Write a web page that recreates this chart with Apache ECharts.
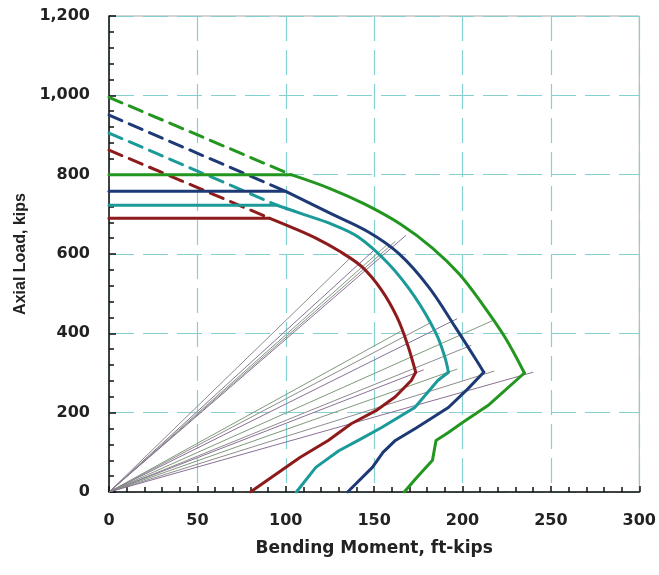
<!DOCTYPE html>
<html>
<head>
<meta charset="utf-8">
<script src="https://cdn.jsdelivr.net/npm/echarts@6/dist/echarts.min.js"></script>
<style>
  html, body { margin: 0; padding: 0; background: #fff; }
  #chart { width: 659px; height: 575px; }
</style>
</head>
<body>
<div id="chart"></div>
<script>
// interaction curves, [moment ft-kips, axial load kips]
// each curve: flat cap, upper arc (corner -> balance point), lower leg (balance point -> pure bending)
var redCap = [[0, 690], [91, 690]];
var redArc = [[91, 690], [104, 666], [117, 640], [130, 608], [143, 568], [154, 510], [163, 440], [169, 370], [173.5, 302]];
var redLeg = [[173.5, 302], [171, 281], [162, 240], [151, 205], [137, 172], [124, 130], [108, 87], [92, 37], [80, 0]];

var tealCap = [[0, 723], [95, 723]];
var tealArc = [[95, 723], [110, 700], [125, 677], [141, 643], [158, 576], [173, 492], [185, 400], [190, 340], [192, 302]];
var tealLeg = [[192, 302], [186, 281], [173, 213], [154, 162], [141, 130], [130, 104], [117, 62], [106, 0]];

var navyCap = [[0, 758], [100, 758]];
var navyArc = [[100, 758], [125, 703], [147, 655], [164, 601], [181, 516], [196, 415], [209, 324], [212, 302]];
var navyLeg = [[212, 302], [203, 260], [192, 213], [174, 162], [162, 130], [155, 100], [149, 62], [135, 0]];

var greenCap = [[0, 800], [103, 800]];
var greenArc = [[103, 800], [125, 765], [145, 725], [165, 675], [183, 615], [198, 550], [211, 475], [224, 390], [235, 300]];
var greenLeg = [[235, 300], [215, 220], [200, 175], [192, 150], [185, 130], [183, 80], [174, 36], [167, 0]];

var redDashed = [[0, 862], [91, 690]];
var tealDashed = [[0, 905], [95, 723]];
var navyDashed = [[0, 950], [100, 758]];
var greenDashed = [[0, 995], [103, 800]];

// thin lines from the origin
var radialEnds = [[136, 588], [150, 610], [157, 622], [162, 632], [168, 647],
  [165, 405], [182, 427], [197, 437], [217, 432], [205, 370],
  [178, 308], [197, 310], [218, 305], [240, 302]];
var radialColors = ["#8c8c8c", "#8a7096", "#7f9a7a"];

var curveColors = { red: "#8e1b1b", teal: "#1c9a9a", navy: "#1d3a76", green: "#23961f" };

var chart = echarts.init(document.getElementById("chart"), null, { renderer: "canvas" });

var series = [];
radialEnds.forEach(function (p, i) {
  series.push({
    type: "line",
    data: [[0, 0], p],
    symbol: "none",
    silent: true,
    lineStyle: { color: radialColors[i % 3], width: 1 },
    z: 2
  });
});

function curve(data, color, dashed, smooth) {
  return {
    type: "line",
    data: data,
    symbol: "none",
    silent: true,
    smooth: smooth || false,
    lineStyle: { color: color, width: 3, type: dashed ? [14, 8] : "solid", cap: "round", join: "round" },
    z: 3
  };
}
series.push(curve(redDashed, curveColors.red, true));
series.push(curve(tealDashed, curveColors.teal, true));
series.push(curve(navyDashed, curveColors.navy, true));
series.push(curve(greenDashed, curveColors.green, true));

[[redCap, redArc, redLeg, curveColors.red],
 [tealCap, tealArc, tealLeg, curveColors.teal],
 [navyCap, navyArc, navyLeg, curveColors.navy],
 [greenCap, greenArc, greenLeg, curveColors.green]].forEach(function (c) {
  series.push(curve(c[0], c[3], false));
  series.push(curve(c[1], c[3], false, 0.35));
  series.push(curve(c[2], c[3], false));
});

var wideFont = { color: "#222", fontSize: 16, fontWeight: "bold", fontFamily: "DejaVu Sans, sans-serif" };
var yTitleFont = { color: "#222", fontSize: 16, fontWeight: "bold", fontFamily: "Liberation Sans, Arial, sans-serif" };
var gridLine = { show: true, lineStyle: { color: "#86d0d0", width: 1.2, type: [25, 9] } };

chart.setOption({
  backgroundColor: "#fff",
  animation: false,
  grid: { left: 109, right: 18, top: 16, bottom: 83, show: true, borderColor: "#aaa", borderWidth: 1 },
  xAxis: {
    type: "value",
    min: 0,
    max: 300,
    interval: 50,
    name: "Bending Moment, ft-kips",
    nameLocation: "middle",
    nameGap: 48,
    nameTextStyle: Object.assign({}, wideFont, { fontSize: 17 }),
    axisLine: { lineStyle: { color: "#111", width: 1.5 } },
    axisTick: { inside: true, length: 6, lineStyle: { color: "#111", width: 1.5 } },
    minorTick: { show: true, splitNumber: 5, length: 5, lineStyle: { color: "#111", width: 1.5 } },
    axisLabel: Object.assign({ margin: 21 }, wideFont),
    splitLine: gridLine
  },
  yAxis: {
    type: "value",
    min: 0,
    max: 1200,
    interval: 200,
    name: "Axial Load, kips",
    nameLocation: "middle",
    nameGap: 68,
    nameTextStyle: yTitleFont,
    axisLine: { lineStyle: { color: "#111", width: 1.5 } },
    axisTick: { inside: true, length: 7, lineStyle: { color: "#111", width: 1.5 } },
    minorTick: { show: true, splitNumber: 5, length: 5, lineStyle: { color: "#111", width: 1.5 } },
    axisLabel: Object.assign({
      margin: 19,
      formatter: function (v) { return v.toLocaleString("en-US"); }
    }, wideFont),
    splitLine: gridLine
  },
  series: series
});
</script>
</body>
</html>
